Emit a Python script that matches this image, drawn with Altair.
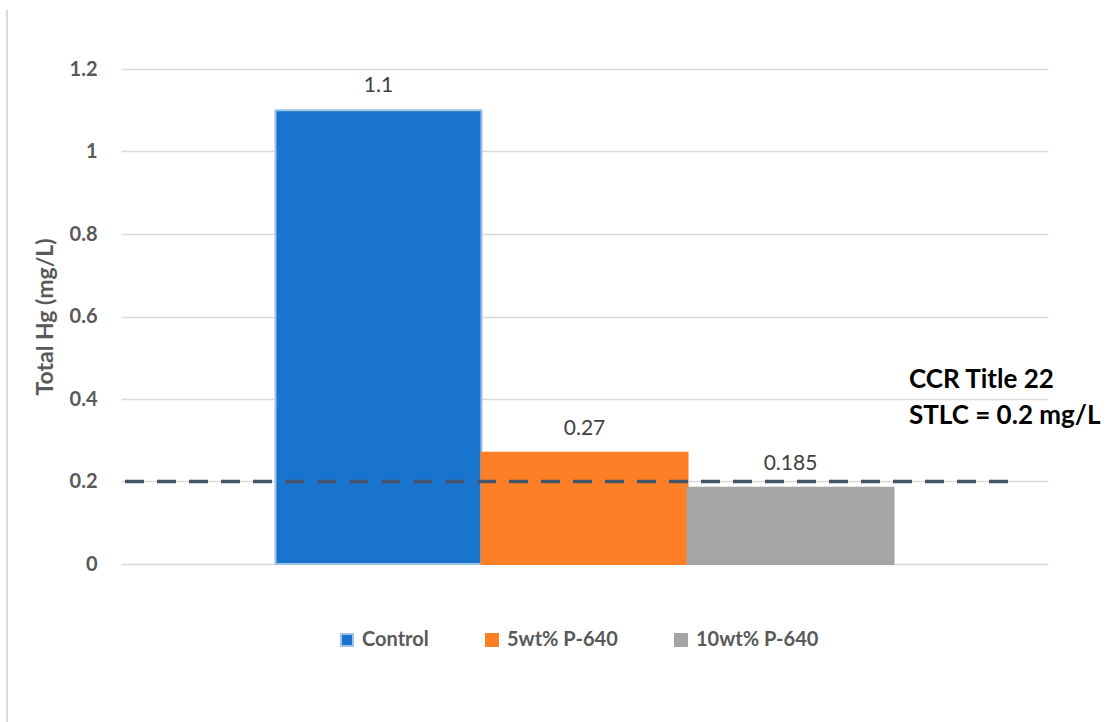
import altair as alt
import pandas as pd

series = ["Control", "5wt% P-640", "10wt% P-640"]
values = [1.1, 0.27, 0.185]
labels = ["1.1", "0.27", "0.185"]
fill_colors = ["#1874CD", "#FF7F27", "#A5A5A5"]
stroke_colors = ["#9DC3E6", "#FF7F27", "#A5A5A5"]
y_ticks = [0, 0.2, 0.4, 0.6, 0.8, 1.0, 1.2]
threshold = 0.2
annotation_lines = ["CCR Title 22", "STLC = 0.2 mg/L"]
annotation_y = 0.427

FONT = "Lato"
df = pd.DataFrame({"series": series, "value": values, "label": labels})

x_enc = alt.X("series:N", sort=series,
              scale=alt.Scale(paddingInner=0, paddingOuter=0.75), axis=None)
y_scale = alt.Scale(domain=[0, 1.2], nice=False)

legend = alt.Legend(title=None, orient="none", direction="horizontal",
                    legendX=216, legendY=561)

base = alt.Chart(df)

bars = base.mark_bar(strokeWidth=2).encode(
    x=x_enc,
    y=alt.Y("value:Q", scale=y_scale,
            axis=alt.Axis(values=y_ticks, title="Total Hg (mg/L)",
                          labelExpr="datum.value == 1 ? '1' : format(datum.value, '.1~f')")),
    color=alt.Color("series:N", sort=series,
                    scale=alt.Scale(domain=series, range=fill_colors), legend=legend),
    stroke=alt.Stroke("series:N", sort=series,
                      scale=alt.Scale(domain=series, range=stroke_colors), legend=legend),
)

text = base.mark_text(font=FONT, fontSize=21, color="#404040", baseline="alphabetic", dy=-18).encode(
    x=x_enc,
    y=alt.Y("value:Q", scale=y_scale),
    text="label:N",
)

rule = alt.Chart(pd.DataFrame({"t": [threshold]})).mark_rule(
    color="#44546A", strokeWidth=3.5, strokeDash=[19, 13]
).encode(
    y=alt.Y("t:Q", scale=y_scale),
    x=alt.value(4), x2=alt.value(896),
)

annot = alt.Chart(pd.DataFrame({"y": [annotation_y]})).mark_text(
    font=FONT, fontSize=26, fontWeight="bold", color="#000000",
    align="left", baseline="alphabetic", lineHeight=36,
    text=annotation_lines,
).encode(
    y=alt.Y("y:Q", scale=y_scale),
    x=alt.value(788),
)

frame = alt.Chart(pd.DataFrame({"a": [0]})).mark_rule(color="#D9D9D9", strokeWidth=2).encode(
    x=alt.value(-114), y=alt.value(-59), y2=alt.value(653),
)

chart = alt.layer(frame, bars, rule, text, annot).properties(
    width=927, height=495,
    autosize=alt.AutoSizeParams(type="none"),
    padding={"left": 121, "top": 69, "right": 71, "bottom": 158},
).configure_view(stroke=None).configure_axis(
    grid=True, gridColor="#D9D9D9", gridWidth=1.5, domain=False, ticks=False,
    labelFont=FONT, labelFontSize=20, labelFontWeight="bold", labelColor="#595959",
    labelPadding=24, titleFont=FONT, titleFontSize=23, titleFontWeight="bold",
    titleColor="#595959", titlePadding=12,
).configure_legend(
    labelFont=FONT, labelFontSize=20, labelFontWeight="bold", labelColor="#595959",
    symbolType="square", symbolSize=144, symbolStrokeWidth=2, labelOffset=5,
    columnPadding=53,
)

chart.save("out.html", embed_options={"renderer": "svg", "actions": False})
